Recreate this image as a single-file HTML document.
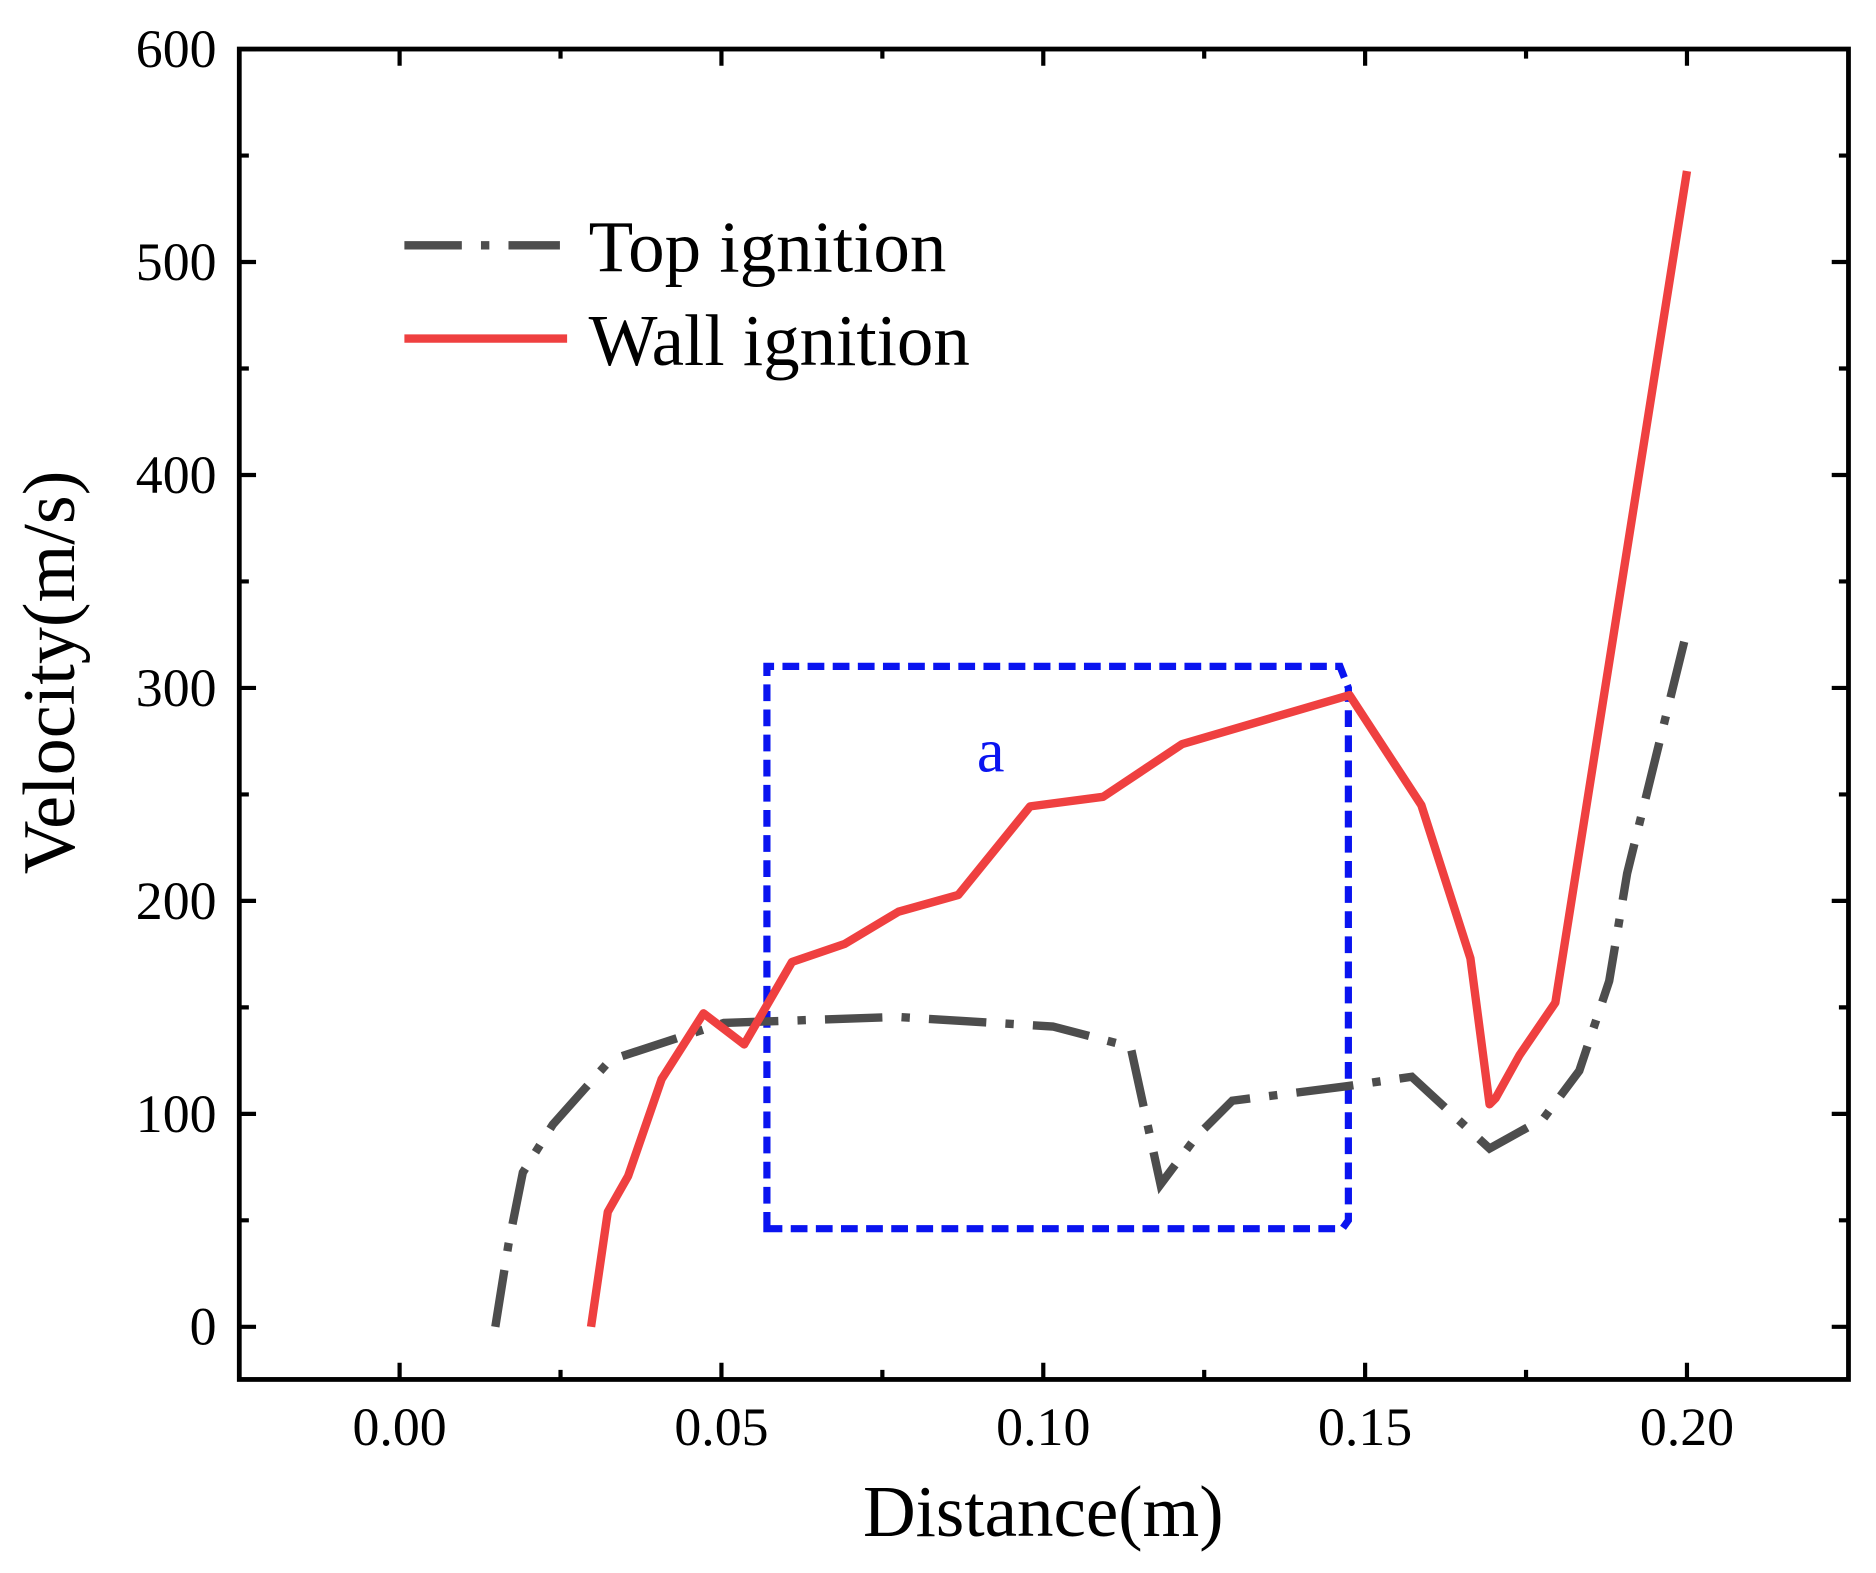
<!DOCTYPE html>
<html><head><style>html,body{margin:0;padding:0;background:#fff}</style></head><body>
<svg width="1876" height="1568" viewBox="0 0 1568 1310.6" preserveAspectRatio="none" xmlns="http://www.w3.org/2000/svg" font-family="Liberation Serif, serif">
<rect width="1568" height="1311" fill="#fff"/>
<g stroke="#000" stroke-width="3.5">
<path d="M334,1153v-14M603,1153v-14M872,1153v-14M1141,1153v-14M1410,1153v-14"/>
<path d="M334,41v14M603,41v14M872,41v14M1141,41v14M1410,41v14"/>
<path d="M468.5,1153v-8M737.5,1153v-8M1006.5,1153v-8M1275.5,1153v-8M468.5,41v8M737.5,41v8M1006.5,41v8M1275.5,41v8"/>
<path d="M200,1109h14M200,931h14M200,753h14M200,575h14M200,397h14M200,219h14M200,41h14"/>
<path d="M1545,1109h-14M1545,931h-14M1545,753h-14M1545,575h-14M1545,397h-14M1545,219h-14"/>
<path d="M200,1020h8M200,842h8M200,664h8M200,486h8M200,308h8M200,130h8M1545,1020h-8M1545,842h-8M1545,664h-8M1545,486h-8M1545,308h-8M1545,130h-8"/>
</g>
<rect x="200" y="41" width="1345" height="1112" fill="none" stroke="#000" stroke-width="4"/>
<g font-size="45" fill="#000" text-anchor="end">
<text x="181" y="1124">0</text><text x="181" y="946">100</text><text x="181" y="768">200</text><text x="181" y="590">300</text><text x="181" y="412">400</text><text x="181" y="234">500</text><text x="181" y="56">600</text>
</g>
<g font-size="45" fill="#000" text-anchor="middle">
<text x="334" y="1208">0.00</text><text x="603" y="1208">0.05</text><text x="872" y="1208">0.10</text><text x="1141" y="1208">0.15</text><text x="1410" y="1208">0.20</text>
</g>
<text x="872" y="1284" font-size="61" text-anchor="middle">Distance(m)</text>
<text transform="translate(62,562) rotate(-90)" font-size="62" text-anchor="middle">Velocity(m/s)</text>
<path d="M641,1027V557H1120L1127,575V1020L1122,1027Z" fill="none" stroke="#0a14f0" stroke-width="6" stroke-dasharray="14,7"/>
<text x="828" y="645" font-size="52" fill="#0a14f0" text-anchor="middle">a</text>
<polyline fill="none" stroke="#4d4d4d" stroke-width="7" stroke-dasharray="48,16,7,16" points="414,1109 425,1040 437,980 462,940 510,886 605,855 750,850 880,858 945,875 970,990 1000,950 1030,920 1125,908 1180,900 1245,960 1290,935 1320,895 1345,820 1360,730 1410,527"/>
<polyline fill="none" stroke="#ef4040" stroke-width="7" stroke-linejoin="round" points="494,1109 508,1013 525,983 553,902 588,847 622,873 662,804 706,789 751,762 801,748 861,674 922,666 988,622 1128,581 1188,673 1229,801 1245,923 1250,918 1270,882 1300,838 1410,143"/>
<path d="M338,205h130" stroke="#4d4d4d" stroke-width="7" stroke-dasharray="48,16,7,16"/>
<text x="492" y="227" font-size="61">Top ignition</text>
<path d="M338,283h136" stroke="#ef4040" stroke-width="7"/>
<text x="492" y="305" font-size="61">Wall ignition</text>
</svg>
</body></html>
